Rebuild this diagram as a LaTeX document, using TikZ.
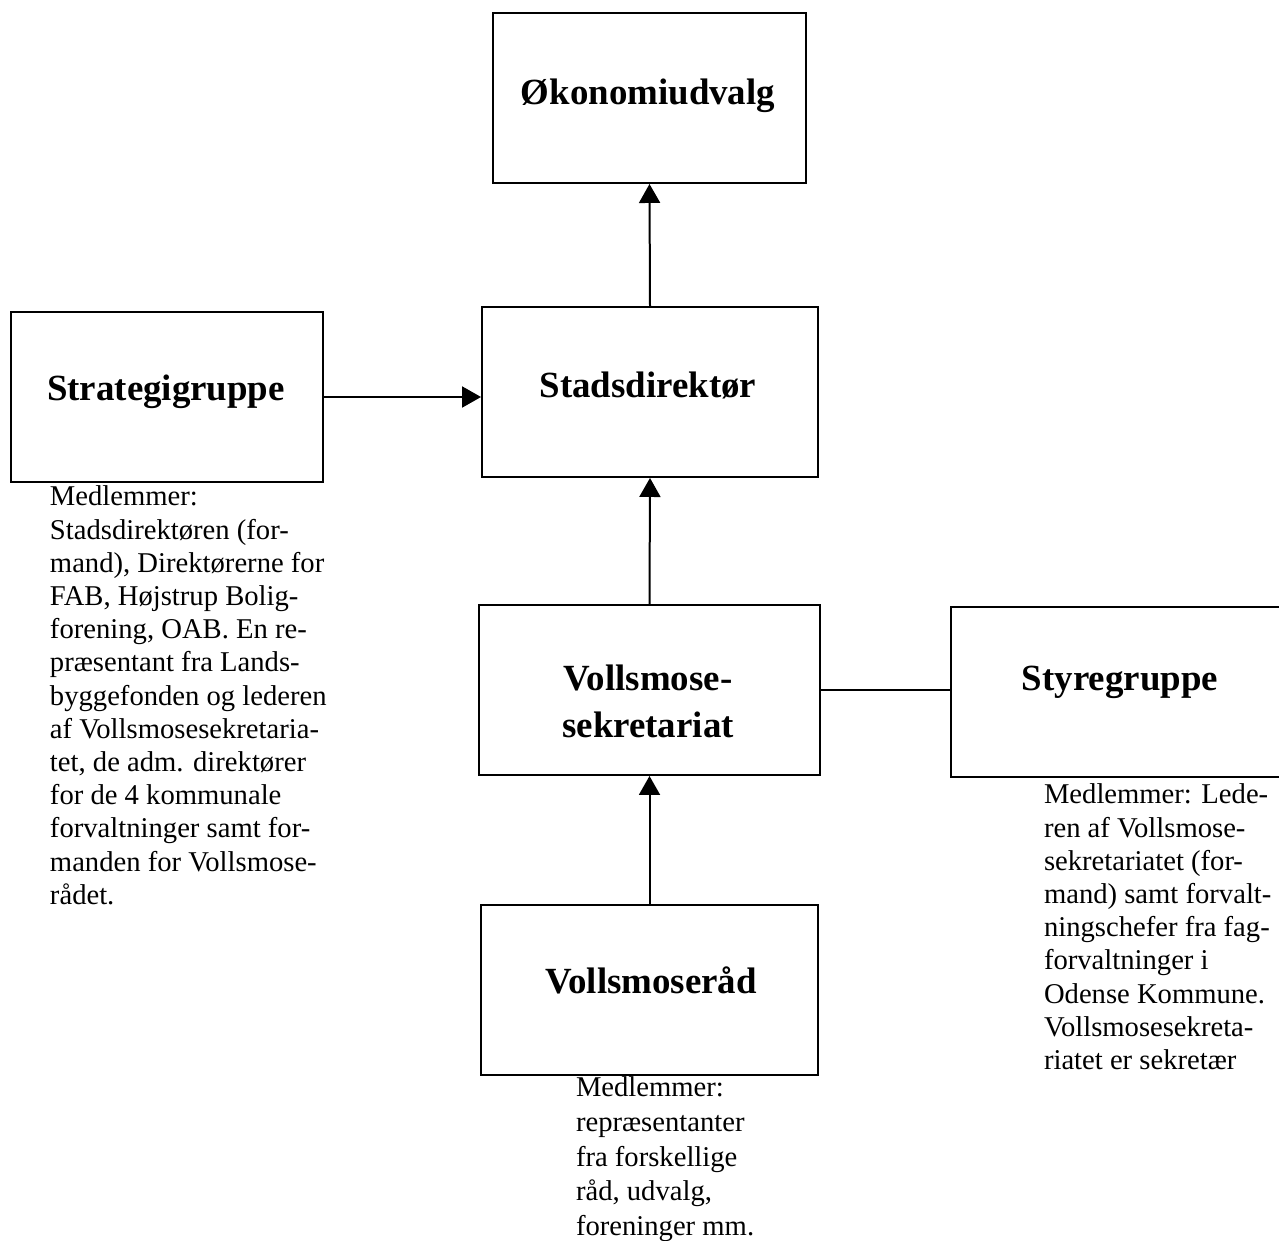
\documentclass[tikz,border=0pt]{standalone}
\usepackage{fontspec}
\setmainfont{Liberation Serif}
\usetikzlibrary{arrows.meta}

\begin{document}
\begin{tikzpicture}[x=0.02cm, y=-0.02cm, line width=0.04cm, inner sep=0pt]
		\tikzstyle{every node}=[align=left]
		\tikzstyle{unit}=[draw, minimum height=3.4cm]
		\tikzstyle{title}=[anchor=base, align=center, font=\fontsize{21}{26.7}\selectfont\bfseries]
		\tikzstyle{members}=[anchor=north west, font=\fontsize{16.3}{18.9}\selectfont]
		\tikzstyle{arr}=[-{Triangle[width=0.42cm, length=0.38cm]}]
			\useasboundingbox (0, 0) rectangle (1279, 1241);

			% boxes
			\node[unit, minimum width=6.26cm] (okonomi) at (649.5, 98) {};
			\node[unit, minimum width=6.72cm] (stads) at (650, 392) {};
			\node[unit, minimum width=6.24cm] (strategi) at (167, 397) {};
			\node[unit, minimum width=6.82cm] (sekretariat) at (649.5, 690) {};
			\node[unit, minimum width=6.76cm] (styre) at (1120, 692) {};
			\node[unit, minimum width=6.74cm] (raad) at (649.5, 990) {};

			% titles
			\node[title] (okonomi-t) at (648, 104) {Økonomiudvalg};
			\node[title] (stads-t) at (648, 397) {Stadsdirektør};
			\node[title] (strategi-t) at (166, 400) {Strategigruppe};
			\node[title] (sekretariat-t) at (648, 737) {Vollsmose-\\sekretariat};
			\node[title] (styre-t) at (1120, 690) {Styregruppe};
			\node[title] (raad-t) at (651, 993) {Vollsmoseråd};

			\node[members] (strategimedl) at (49, 485) {Medlemmer:\\Stadsdirektøren (for-\\mand), Direktørerne for\\FAB, Højstrup Bolig-\\forening, OAB. En re-\\præsentant fra Lands-\\byggefonden og lederen\\af Vollsmosesekretaria-\\tet, de adm. direktører\\for de 4 kommunale\\forvaltninger samt for-\\manden for Vollsmose-\\rådet.};
			\node[members] (styremedl) at (1043, 783) {Medlemmer: Lede-\\ren af Vollsmose-\\sekretariatet (for-\\mand) samt forvalt-\\ningschefer fra fag-\\forvaltninger i\\Odense Kommune.\\Vollsmosesekreta-\\riatet er sekretær};
			\node[members, font=\fontsize{16.3}{19.7}\selectfont] (raadmedl) at (575, 1076) {Medlemmer:\\repræsentanter\\fra forskellige\\råd, udvalg,\\foreninger mm.};

			\draw[arr] (stads.north) -- (okonomi.south);
			\draw[arr] (strategi.east) -- (strategi.east -| stads.west);
			\draw[arr] (sekretariat.north) -- (stads.south);
			\draw[arr] (raad.north) -- (sekretariat.south);
			\draw (sekretariat.east) -- (sekretariat.east -| styre.west);
		\end{tikzpicture}
\end{document}
